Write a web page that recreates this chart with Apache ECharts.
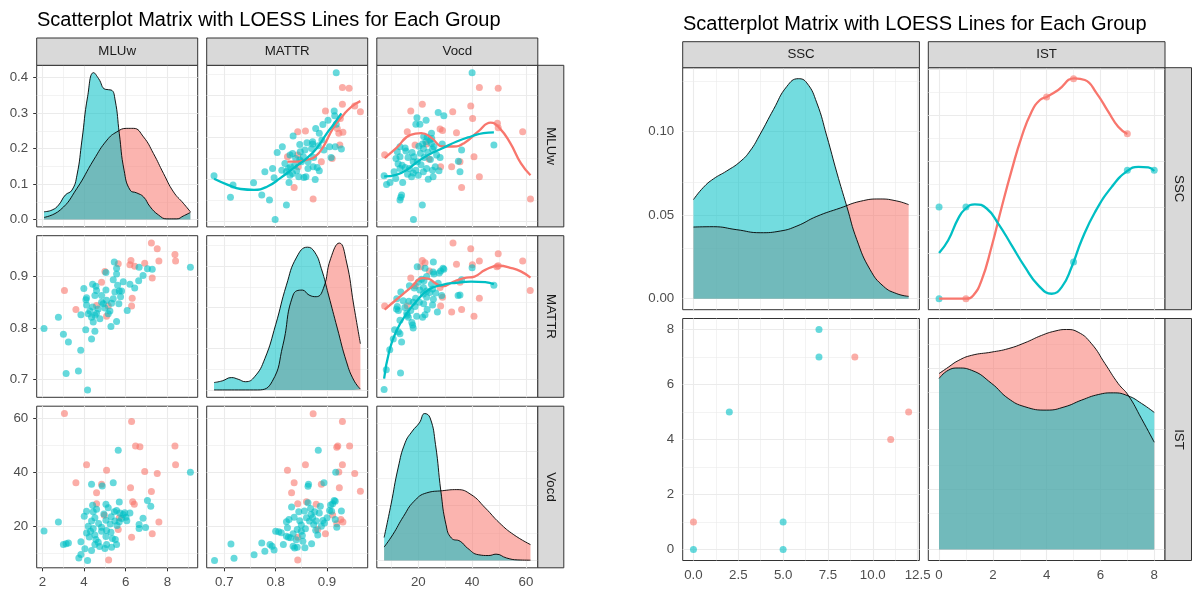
<!DOCTYPE html>
<html>
<head>
<meta charset="utf-8">
<script src="https://cdn.jsdelivr.net/npm/echarts@6/dist/echarts.min.js"></script>
<style>
  html, body { margin: 0; padding: 0; background: #ffffff; }
  #chart { width: 1194px; height: 592px; }
</style>
</head>
<body>
<div id="chart"></div>
<script>
// ---------- groups ----------
const groupColors = ['#F8766D', '#00BFC4'];          // red group, teal group
const leftVars = ['MLUw', 'MATTR', 'Vocd'];
const rightVars = ['SSC', 'IST'];
const figTitle = 'Scatterplot Matrix with LOESS Lines for Each Group';

// ---------- tick values ----------
const mluwMajor = [2, 4, 6, 8],            mluwMinor = [3, 5, 7, 9];
const mattrMajor = [0.7, 0.8, 0.9],        mattrMinor = [0.75, 0.85, 0.95];
const vocdMajor = [20, 40, 60],            vocdMinor = [10, 30, 50];
const mluwDensMajor = [0, 0.1, 0.2, 0.3, 0.4], mluwDensMinor = [0.05, 0.15, 0.25, 0.35];
const mattrDensMajor = [0, 5, 10, 15],     mattrDensMinor = [2.5, 7.5, 12.5, 17.5];
const vocdDensMajor = [0, 0.02, 0.04],     vocdDensMinor = [0.01, 0.03, 0.05];
const sscMajor = [0, 2.5, 5, 7.5, 10, 12.5], sscMinor = [1.25, 3.75, 6.25, 8.75, 11.25];
const istMajor = [0, 2, 4, 6, 8],          istMinor = [1, 3, 5, 7];
const sscDensMajor = [0, 0.05, 0.1],       sscDensMinor = [0.025, 0.075, 0.125];
const istDensMajor = [0, 0.05, 0.1, 0.15], istDensMinor = [0.025, 0.075, 0.125, 0.175];

// ---------- scatter pairs: [MLUw, MATTR] ----------
const mluwMattrRed = [[7.23,0.965],[7.51,0.954],[8.36,0.943],[8.39,0.930],[7.59,0.930],[6.25,0.931],[6.20,0.923],[6.43,0.920],[6.91,0.926],[5.64,0.925],[7.27,0.897],[5.00,0.910],[4.84,0.889],[3.06,0.873],[6.31,0.858],[6.28,0.843],[5.16,0.843],[4.60,0.844],[3.61,0.836],[5.08,0.823]];
const mluwMattrTeal = [[6.64,0.918],[7.04,0.915],[7.27,0.914],[6.83,0.902],[6.62,0.892],[5.45,0.928],[5.56,0.916],[5.56,0.905],[5.05,0.908],[5.40,0.894],[5.61,0.883],[5.88,0.890],[6.20,0.885],[6.43,0.878],[3.99,0.877],[4.41,0.885],[4.57,0.881],[4.60,0.873],[5.05,0.874],[5.48,0.870],[5.69,0.872],[5.80,0.872],[5.75,0.861],[5.40,0.857],[4.84,0.863],[4.52,0.863],[4.12,0.859],[4.09,0.855],[4.12,0.845],[5.08,0.854],[5.32,0.848],[4.92,0.847],[4.84,0.850],[5.67,0.847],[6.07,0.834],[4.41,0.841],[4.68,0.837],[5.00,0.839],[5.24,0.833],[5.16,0.828],[4.28,0.833],[4.60,0.829],[4.52,0.825],[4.76,0.818],[4.36,0.821],[4.44,0.812],[3.85,0.826],[4.20,0.828],[2.77,0.821],[5.56,0.813],[5.29,0.803],[2.08,0.799],[4.08,0.797],[4.52,0.794],[3.01,0.788],[4.36,0.779],[3.25,0.773],[3.84,0.757],[3.14,0.712],[3.73,0.717],[4.17,0.680],[9.10,0.918]];

// ---------- scatter pairs: [MLUw, Vocd] ----------
const mluwVocdRed = [[3.06,61.7],[6.28,58.8],[6.47,49.7],[6.68,49.4],[8.36,49.7],[8.39,42.7],[4.12,42.7],[5.08,40.7],[6.91,40.2],[7.51,39.5],[3.61,36.1],[4.84,35.5],[4.60,32.4],[6.23,34.2],[7.23,32.8],[6.33,29.0],[6.41,28.1],[4.60,28.3],[4.97,24.0],[5.69,23.1],[5.64,18.8],[7.59,21.5],[7.27,17.2],[6.28,15.9],[5.18,7.5]];
const mluwVocdTeal = [[5.64,48.1],[5.40,36.1],[4.36,35.5],[4.87,34.9],[9.10,40.0],[7.04,29.5],[7.20,27.4],[5.69,28.9],[4.41,27.7],[5.05,28.1],[4.12,25.5],[4.01,23.7],[4.44,25.3],[4.60,26.3],[5.16,26.8],[5.45,25.3],[5.56,25.8],[5.72,24.9],[5.88,24.3],[6.01,23.3],[6.20,24.9],[5.48,21.9],[5.69,21.6],[5.80,22.8],[4.52,23.1],[4.36,21.9],[5.05,22.2],[2.77,21.5],[2.08,18.2],[6.83,22.9],[6.64,20.6],[6.64,19.1],[4.84,19.6],[4.44,19.1],[4.31,18.1],[4.12,17.5],[4.52,16.7],[4.84,18.1],[5.08,18.4],[5.29,17.7],[5.05,16.2],[5.50,15.1],[5.36,15.4],[4.57,15.1],[4.52,13.2],[5.08,13.2],[5.00,11.7],[5.32,12.2],[3.85,14.2],[4.04,11.6],[4.36,11.0],[3.01,13.2],[3.14,13.5],[3.25,13.8],[3.85,9.5],[3.75,8.2],[4.17,7.3],[5.56,13.2],[4.68,14.0],[4.20,20.0],[4.70,21.0],[5.30,23.5],[6.05,22.0],[5.95,25.0],[4.95,24.5],[6.95,19.5],[5.58,20.2],[4.25,16.0],[4.75,12.5],[5.25,20.8]];

// ---------- scatter pairs: [MATTR, Vocd] ----------
const mattrVocdRed = [[0.873,61.6],[0.930,58.8],[0.921,49.7],[0.919,49.2],[0.944,49.7],[0.930,42.7],[0.858,42.7],[0.823,40.7],[0.923,40.1],[0.954,39.5],[0.836,36.1],[0.889,35.5],[0.831,32.4],[0.924,34.2],[0.965,32.9],[0.843,28.3],[0.860,29.0],[0.879,28.1],[0.911,24.1],[0.927,22.5],[0.931,21.5],[0.919,20.9],[0.882,18.8],[0.897,17.2],[0.843,15.9],[0.843,7.5]];
const mattrVocdTeal = [[0.681,7.3],[0.713,13.4],[0.719,8.1],[0.758,9.4],[0.773,13.8],[0.779,10.7],[0.789,13.2],[0.793,12.6],[0.797,11.2],[0.800,18.1],[0.806,17.9],[0.811,17.6],[0.815,13.2],[0.821,21.6],[0.823,19.4],[0.821,16.3],[0.825,15.9],[0.829,15.7],[0.834,12.6],[0.834,17.2],[0.837,11.9],[0.842,12.2],[0.831,27.1],[0.836,23.3],[0.842,18.8],[0.845,25.3],[0.850,18.1],[0.853,14.4],[0.850,20.4],[0.856,25.6],[0.860,23.1],[0.863,28.7],[0.863,34.8],[0.864,35.5],[0.866,21.9],[0.869,24.3],[0.872,23.1],[0.876,25.3],[0.874,20.6],[0.879,21.9],[0.883,48.1],[0.885,24.9],[0.882,16.7],[0.887,27.4],[0.894,36.1],[0.892,22.1],[0.895,21.2],[0.900,23.1],[0.905,25.8],[0.907,27.8],[0.911,28.3],[0.914,29.5],[0.916,22.5],[0.919,19.6],[0.917,40.0],[0.928,25.6],[0.909,25.5],[0.916,29.2],[0.847,22.0],[0.858,19.0],[0.868,26.5],[0.852,16.5],[0.840,15.0],[0.878,18.5],[0.889,20.0],[0.826,22.5],[0.870,13.5],[0.857,12.0]];

// ---------- densities on the diagonal ----------
const mluwDensRed  = [[2.08,0.006],[2.86,0.027],[3.66,0.088],[4.46,0.168],[5.10,0.224],[5.57,0.247],[6.05,0.257],[6.37,0.257],[6.85,0.233],[7.33,0.186],[7.81,0.130],[8.29,0.078],[8.76,0.046],[9.10,0.022]];
const mluwDensTeal = [[2.08,0.022],[2.47,0.027],[2.78,0.041],[3.10,0.069],[3.42,0.083],[3.66,0.125],[3.90,0.224],[4.17,0.346],[4.46,0.414],[4.70,0.397],[5.02,0.367],[5.30,0.365],[5.49,0.337],[5.69,0.243],[5.92,0.139],[6.21,0.083],[6.53,0.075],[6.85,0.064],[7.17,0.036],[7.57,0.013],[7.97,0.002],[8.45,0.002],[8.76,0.010],[9.10,0.020]];
const mattrDensRed  = [[0.680,0],[0.765,0],[0.793,1.0],[0.814,5.4],[0.834,11.5],[0.852,12.1],[0.865,11.5],[0.879,11.3],[0.893,12.3],[0.907,15.9],[0.924,17.8],[0.938,15.5],[0.952,10.3],[0.965,5.6]];
const mattrDensTeal = [[0.680,0.9],[0.696,1.1],[0.714,1.5],[0.727,1.3],[0.741,1.0],[0.759,1.6],[0.779,3.8],[0.800,7.9],[0.821,12.7],[0.841,16.1],[0.862,17.3],[0.876,16.7],[0.889,14.7],[0.903,11.5],[0.920,7.5],[0.938,3.4],[0.952,1.2],[0.965,0.1]];
const vocdDensRed  = [[7.3,0.0049],[10.5,0.0094],[14.5,0.0161],[18.4,0.0216],[23.1,0.0247],[29.0,0.0255],[34.3,0.0259],[39.6,0.0241],[44.9,0.0192],[50.2,0.0137],[55.5,0.0094],[61.7,0.0058]];
const vocdDensTeal = [[7.3,0.0084],[9.85,0.0204],[12.5,0.0338],[15.1,0.0430],[17.8,0.0473],[20.4,0.0503],[22.4,0.0537],[24.4,0.0521],[26.4,0.0424],[28.4,0.0253],[30.3,0.0131],[32.3,0.0082],[35.6,0.0070],[38.3,0.0045],[42.3,0.0021],[46.2,0.0018],[48.9,0.0023],[52.8,0.0009],[57.0,0.0002],[61.7,0.0001]];

// ---------- LOESS curves in the upper panels ----------
const mattrMluwLoessRed  = [[0.823,4.85],[0.842,4.85],[0.861,4.94],[0.877,5.09],[0.893,5.57],[0.912,6.45],[0.932,7.08],[0.948,7.48],[0.965,7.74]];
const mattrMluwLoessTeal = [[0.680,4.03],[0.707,3.74],[0.732,3.54],[0.758,3.50],[0.784,3.66],[0.809,4.06],[0.835,4.54],[0.861,5.02],[0.880,5.49],[0.900,6.21],[0.912,6.60],[0.928,7.15]];
const vocdMluwLoessRed  = [[7.5,5.02],[11.8,5.49],[17.1,6.13],[21.1,6.21],[25.0,5.97],[29.0,5.57],[33.0,5.57],[37.0,5.73],[42.3,6.29],[46.9,6.71],[50.2,6.45],[54.2,5.73],[58.1,4.78],[61.7,4.20]];
const vocdMluwLoessTeal = [[7.3,4.14],[11.8,4.22],[15.8,4.46],[19.8,4.85],[23.7,5.17],[29.0,5.49],[34.3,5.81],[39.6,6.05],[44.2,6.21],[48.1,6.25]];
const vocdMattrLoessRed  = [[7.5,0.836],[11.8,0.855],[17.1,0.878],[21.7,0.897],[23.7,0.896],[26.4,0.887],[29.0,0.881],[33.0,0.890],[37.0,0.897],[40.9,0.900],[44.9,0.913],[50.2,0.921],[54.2,0.917],[58.1,0.910],[61.7,0.898]];
const vocdMattrLoessTeal = [[7.3,0.702],[9.2,0.755],[11.8,0.794],[15.8,0.829],[19.8,0.855],[23.7,0.874],[29.0,0.884],[34.3,0.888],[39.6,0.890],[44.9,0.889],[48.1,0.885]];

// ---------- second matrix: SSC / IST ----------
const sscIstRed  = [[0,1],[9,7],[11,4],[12,5]];
const sscIstTeal = [[0,0],[2,5],[5,1],[5,0],[7,8],[7,7]];
const sscDensRed  = [[0,0.0429],[1.11,0.0431],[2.42,0.0413],[3.72,0.0395],[4.84,0.0405],[5.77,0.0435],[6.88,0.0493],[8.19,0.0543],[9.30,0.0583],[10.41,0.0597],[11.34,0.0585],[12,0.0563]];
const sscDensTeal = [[0,0.0593],[0.55,0.0666],[1.11,0.0717],[1.86,0.0765],[2.60,0.0820],[3.16,0.0885],[3.72,0.0985],[4.46,0.1132],[5.21,0.1271],[5.85,0.1317],[6.32,0.1292],[6.88,0.1172],[7.44,0.0972],[8.00,0.0753],[8.55,0.0553],[9.11,0.0353],[9.85,0.0174],[10.60,0.0074],[11.34,0.0030],[12,0.0014]];
const istDensRed  = [[0,0.1458],[0.34,0.1510],[0.71,0.1565],[1.21,0.1609],[1.96,0.1636],[2.57,0.1664],[3.19,0.1713],[3.81,0.1774],[4.31,0.1810],[4.74,0.1823],[5.17,0.1801],[5.67,0.1705],[6.17,0.1540],[6.66,0.1375],[7.03,0.1279],[7.53,0.1083],[8,0.0889]];
const istDensTeal = [[0,0.1417],[0.34,0.1485],[0.71,0.1504],[1.21,0.1485],[1.96,0.1375],[2.57,0.1252],[3.19,0.1183],[4.0,0.1155],[4.68,0.1183],[5.30,0.1238],[5.92,0.1284],[6.48,0.1298],[7.03,0.1273],[7.53,0.1210],[8,0.1136]];
const istSscLoessRed  = [[0,0],[0.99,0],[1.27,0.18],[1.58,1.0],[1.95,2.82],[2.33,5.0],[2.70,7.01],[3.07,8.83],[3.44,10.2],[3.75,10.84],[4.02,11.02],[4.43,11.38],[5.03,12.02],[5.42,11.93],[5.86,11.2],[6.29,10.2],[6.66,9.38],[7.0,8.98]];
const istSscLoessTeal = [[0,2.49],[0.34,3.19],[0.71,4.37],[0.99,4.92],[1.33,5.15],[1.77,4.92],[2.20,4.10],[2.70,2.91],[3.19,1.73],[3.69,0.73],[4.19,0.27],[4.56,0.63],[4.93,1.73],[5.30,3.19],[5.80,4.73],[6.42,6.10],[7.0,6.97],[7.41,7.19],[7.78,7.16],[8.0,6.97]];

// ---------- helpers ----------
const FONT = '"Liberation Sans", Arial, Helvetica, sans-serif';
const AXIS_TEXT = '#4D4D4D', STRIP_TEXT = '#1A1A1A', FRAME = '#333333', GRIDC = '#EBEBEB';
const FILL = ['rgba(248,118,109,0.55)', 'rgba(0,191,196,0.55)'];
const SMOOTH = 0.5;

const col = (arr, k) => arr.map(p => p[k]);
const swap = arr => arr.map(p => [p[1], p[0]]);
// ggplot-style 5% expansion of a data range
function expand(values, includeZero) {
  let lo = Math.min(...values), hi = Math.max(...values);
  if (includeZero) lo = Math.min(lo, 0);
  const pad = (hi - lo) * 0.05;
  return [lo - pad, hi + pad];
}
const fmtInt = v => String(v), fmt1 = v => v.toFixed(1), fmt2 = v => v.toFixed(2);

function scale(values, major, minor, fmt, includeZero) {
  const [min, max] = expand(values, includeZero);
  return { min, max, major, minor, fmt };
}

const mluwVals = [].concat(col(mluwMattrRed,0), col(mluwMattrTeal,0), col(mluwVocdRed,0), col(mluwVocdTeal,0));
const mattrVals = [].concat(col(mluwMattrRed,1), col(mluwMattrTeal,1), col(mattrVocdRed,0), col(mattrVocdTeal,0));
const vocdVals = [].concat(col(mluwVocdRed,1), col(mluwVocdTeal,1), col(mattrVocdRed,1), col(mattrVocdTeal,1));
const sscVals = [].concat(col(sscIstRed,0), col(sscIstTeal,0));
const istVals = [].concat(col(sscIstRed,1), col(sscIstTeal,1));

const sMluw = scale(mluwVals, mluwMajor, mluwMinor, fmtInt);
const sMattr = scale(mattrVals, mattrMajor, mattrMinor, fmt1);
const sVocd = scale(vocdVals, vocdMajor, vocdMinor, fmtInt);
const sMluwDens = scale(col(mluwDensRed,1).concat(col(mluwDensTeal,1)), mluwDensMajor, mluwDensMinor, fmt1, true);
const sMattrDens = scale(col(mattrDensRed,1).concat(col(mattrDensTeal,1)), mattrDensMajor, mattrDensMinor, fmt1, true);
const sVocdDens = scale(col(vocdDensRed,1).concat(col(vocdDensTeal,1)), vocdDensMajor, vocdDensMinor, fmt2, true);
const sSsc = scale(sscVals, sscMajor, sscMinor, fmt1);
const sIst = scale(istVals, istMajor, istMinor, fmtInt);
const sSscDens = scale(col(sscDensRed,1).concat(col(sscDensTeal,1)), sscDensMajor, sscDensMinor, fmt2, true);
const sIstDens = scale(col(istDensRed,1).concat(col(istDensTeal,1)), istDensMajor, istDensMinor, fmt2, true);

const grids = [], xAxes = [], yAxes = [], series = [], graphics = [];

function gridLines(s, key) {
  const out = [];
  s.minor.filter(v => v > s.min && v < s.max).forEach(v =>
    out.push({ [key]: v, lineStyle: { color: GRIDC, width: 0.6, type: 'solid' } }));
  s.major.filter(v => v > s.min && v < s.max).forEach(v =>
    out.push({ [key]: v, lineStyle: { color: GRIDC, width: 1.1, type: 'solid' } }));
  return out;
}

function axisOpt(s, i, isX, show) {
  return {
    type: 'value', gridIndex: i, min: s.min, max: s.max,
    position: isX ? 'bottom' : 'left',
    axisLine: { show: false },
    splitLine: { show: false },
    axisTick: { show: show, inside: false, length: 3.5, customValues: s.major,
                lineStyle: { color: FRAME, width: 1 } },
    axisLabel: { show: show, customValues: s.major, formatter: s.fmt,
                 color: AXIS_TEXT, fontSize: 13.3, fontFamily: FONT, margin: isX ? 8.5 : 8.5 }
  };
}

function panel(box, xs, ys, showX, showY) {
  const i = grids.length;
  grids.push({ left: box[0], top: box[1], width: box[2], height: box[3], show: true,
               backgroundColor: '#FFFFFF', borderColor: FRAME, borderWidth: 1 });
  xAxes.push(axisOpt(xs, i, true, showX));
  yAxes.push(axisOpt(ys, i, false, showY));
  series.push({
    type: 'line', xAxisIndex: i, yAxisIndex: i, data: [], silent: true, z: 1,
    markLine: { silent: true, z: 1, symbol: ['none', 'none'], label: { show: false },
                emphasis: { disabled: true }, animation: false,
                data: gridLines(xs, 'xAxis').concat(gridLines(ys, 'yAxis')) }
  });
  return i;
}

function density(i, red, teal) {
  [red, teal].forEach((d, g) => series.push({
    type: 'line', xAxisIndex: i, yAxisIndex: i, data: d, smooth: SMOOTH,
    showSymbol: false, symbol: 'none', silent: true, z: 2,
    lineStyle: { color: '#000000', width: 0.9 },
    areaStyle: { color: FILL[g], opacity: 1 }
  }));
}

function points(i, red, teal) {
  [red, teal].forEach((d, g) => series.push({
    type: 'scatter', xAxisIndex: i, yAxisIndex: i, data: d, symbolSize: 7, silent: true, z: 3,
    itemStyle: { color: groupColors[g], opacity: 0.6, borderWidth: 0 }
  }));
}

function smoothLine(i, red, teal) {
  [red, teal].forEach((d, g) => series.push({
    type: 'line', xAxisIndex: i, yAxisIndex: i, data: d, smooth: SMOOTH,
    showSymbol: false, symbol: 'none', silent: true, z: 4,
    lineStyle: { color: groupColors[g], width: 2.3 }
  }));
}

function strip(x, y, w, h, text, vertical) {
  graphics.push({ type: 'rect', z: 50, silent: true,
    shape: { x: x, y: y, width: w, height: h },
    style: { fill: '#D9D9D9', stroke: FRAME, lineWidth: 1 } });
  graphics.push({ type: 'text', z: 51, silent: true,
    x: x + w / 2, y: y + h / 2, rotation: vertical ? -Math.PI / 2 : 0,
    style: { text: text, fill: STRIP_TEXT, font: '13.3px ' + FONT, align: 'center', verticalAlign: 'middle' } });
}

// ---------- first matrix: MLUw / MATTR / Vocd ----------
const LC = [36.7, 206.7, 376.8], LR = [65.3, 235.7, 406.2], LW = 161, LH = 161.6;
const lbox = (r, c) => [LC[c], LR[r], LW, LH];

let p;
p = panel(lbox(0,0), sMluw, sMluwDens, false, true);  density(p, mluwDensRed, mluwDensTeal);
p = panel(lbox(0,1), sMattr, sMluw, false, false);    points(p, swap(mluwMattrRed), swap(mluwMattrTeal)); smoothLine(p, mattrMluwLoessRed, mattrMluwLoessTeal);
p = panel(lbox(0,2), sVocd, sMluw, false, false);     points(p, swap(mluwVocdRed), swap(mluwVocdTeal));   smoothLine(p, vocdMluwLoessRed, vocdMluwLoessTeal);
p = panel(lbox(1,0), sMluw, sMattr, false, true);     points(p, mluwMattrRed, mluwMattrTeal);
p = panel(lbox(1,1), sMattr, sMattrDens, false, false); density(p, mattrDensRed, mattrDensTeal);
p = panel(lbox(1,2), sVocd, sMattr, false, false);    points(p, swap(mattrVocdRed), swap(mattrVocdTeal)); smoothLine(p, vocdMattrLoessRed, vocdMattrLoessTeal);
p = panel(lbox(2,0), sMluw, sVocd, true, true);       points(p, mluwVocdRed, mluwVocdTeal);
p = panel(lbox(2,1), sMattr, sVocd, true, false);     points(p, mattrVocdRed, mattrVocdTeal);
p = panel(lbox(2,2), sVocd, sVocdDens, true, false);  density(p, vocdDensRed, vocdDensTeal);

leftVars.forEach((v, k) => {
  strip(LC[k], 38, LW, LR[0] - 38, v, false);
  strip(LC[2] + LW, LR[k], 26, LH, v, true);
});

// ---------- second matrix: SSC / IST ----------
const RC = [682.7, 928.3], RR = [67.7, 318.5], RW = 236.7, RH = 242;
const rbox = (r, c) => [RC[c], RR[r], RW, RH];

p = panel(rbox(0,0), sSsc, sSscDens, false, true);  density(p, sscDensRed, sscDensTeal);
p = panel(rbox(0,1), sIst, sSsc, false, false);     points(p, swap(sscIstRed), swap(sscIstTeal)); smoothLine(p, istSscLoessRed, istSscLoessTeal);
p = panel(rbox(1,0), sSsc, sIst, true, true);       points(p, sscIstRed, sscIstTeal);
p = panel(rbox(1,1), sIst, sIstDens, true, false);  density(p, istDensRed, istDensTeal);

rightVars.forEach((v, k) => {
  strip(RC[k], 41.7, RW, RR[0] - 41.7, v, false);
  strip(RC[1] + RW, RR[k], 26.5, RH, v, true);
});

const chart = echarts.init(document.getElementById('chart'), null, { renderer: 'canvas' });
chart.setOption({
  animation: false,
  backgroundColor: '#FFFFFF',
  title: [
    { text: figTitle, left: 37, top: 10.5, padding: 0,
      textStyle: { fontSize: 20, fontWeight: 'normal', color: '#000000', fontFamily: FONT } },
    { text: figTitle, left: 683, top: 14, padding: 0,
      textStyle: { fontSize: 20, fontWeight: 'normal', color: '#000000', fontFamily: FONT } }
  ],
  grid: grids,
  xAxis: xAxes,
  yAxis: yAxes,
  series: series,
  graphic: graphics
});
</script>
</body>
</html>
